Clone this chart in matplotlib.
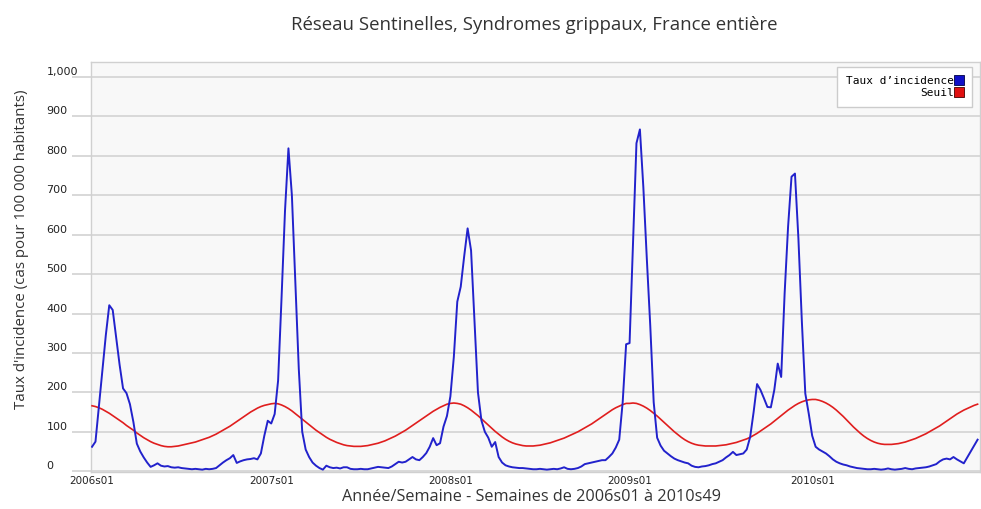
import matplotlib
matplotlib.use("Agg")
import matplotlib.pyplot as plt
import numpy as np
from matplotlib.lines import Line2D

# ---------------- data ----------------
title = "Réseau Sentinelles, Syndromes grippaux, France entière"
xlabel = "Année/Semaine - Semaines de 2006s01 à 2010s49"
ylabel = "Taux d'incidence (cas pour 100 000 habitants)"
series_names = ["Taux d\u2019incidence", "Seuil"]

tick_labels = ["2006s01", "2007s01", "2008s01", "2009s01", "2010s01"]
weeks_per_year = [52, 52, 52, 53, 49]   # 2006..2010 (2010 up to s49)

ytick_values = [0, 100, 200, 300, 400, 500, 600, 700, 800, 900, 1000]
ytick_labels = ["0", "100", "200", "300", "400", "500", "600", "700", "800", "900", "1,000"]

# weekly incidence rate (blue)
inc_2006 = [62, 75, 165, 255, 345, 421, 409, 340, 270, 210, 198, 170, 125, 70, 50, 35, 22, 11, 15, 20,
            14, 12, 13, 10, 9, 10, 8, 7, 6, 5, 6, 5, 4, 6, 5, 6, 8, 15, 22, 28,
            33, 41, 21, 25, 28, 30, 31, 33, 30, 45, 90, 128]
inc_2007 = [121, 145, 230, 440, 660, 819, 700, 480, 260, 100, 55, 36, 22, 14, 8,
            4, 14, 10, 8, 9, 7, 10, 10, 6, 5, 5, 6, 5, 5, 7, 9, 11, 10, 9, 8, 12, 18, 24, 22, 24, 30, 36, 30,
            28, 36, 46, 62, 84, 66, 71, 113, 140]
inc_2008 = [190, 290, 430, 468, 545, 616, 560, 380, 200, 129, 100, 85, 62, 74, 36, 22, 15, 12, 10, 9, 8,
            8, 7, 6, 5, 5, 6, 5, 4, 5, 6, 5, 7, 10, 6, 5, 6, 8, 12, 18, 20, 22,
            24, 26, 28, 28, 36, 45, 60, 80, 175, 322]
inc_2009 = [325, 580, 832, 867, 720, 540, 370, 175, 85, 65, 52, 45, 38, 32, 28, 25, 22, 20, 14, 11,
            10, 12, 13, 15, 18, 20, 24, 28, 35, 41, 49, 41, 43, 45, 55, 87, 150, 221, 206, 185,
            163, 162, 206, 273, 239, 451, 620, 747, 755, 590, 380, 197, 146]
inc_2010 = [90, 62, 55, 50, 45, 38, 30, 24, 20, 17, 15, 12, 10, 8, 7, 6, 5, 5, 6, 5,
            4, 5, 7, 5, 4, 5, 6, 8, 6, 5, 7, 8, 9, 10, 12, 15, 18, 25, 30, 32,
            30, 36, 30, 25, 20, 35, 50, 65, 80]

# epidemic threshold (red)
seuil_2006 = [166, 164, 161, 157, 152, 147, 141, 135, 129, 123, 116, 110, 104, 97, 91, 85, 80, 75, 71, 68,
              65, 63, 62, 62, 63, 64, 66, 68, 70, 72, 74, 77, 80, 83, 86, 90, 94, 99, 104, 109,
              114, 120, 126, 132, 138, 144, 150, 155, 160, 164, 167, 169]
seuil_2007 = [171, 172, 171, 168, 164, 159, 153, 146, 139, 132, 125, 118, 111, 104, 98, 92, 86, 81, 77, 73,
              70, 67, 65, 64, 63, 63, 63, 64, 65, 67, 69, 71, 74, 77, 81, 85, 89, 94, 99, 104,
              110, 116, 122, 128, 134, 140, 146, 152, 157, 162, 166, 170]
seuil_2008 = [172, 173, 172, 170, 166, 161, 155, 148, 141, 133, 125, 117, 109, 101, 94, 87, 81, 76, 72, 69,
              67, 65, 64, 64, 64, 65, 66, 68, 70, 72, 75, 78, 81, 84, 88, 92, 96, 100, 105, 110,
              115, 120, 126, 132, 138, 144, 150, 156, 161, 165, 169, 172]
seuil_2009 = [172, 173, 172, 169, 165, 160, 154, 147, 140, 132, 124, 116, 108, 100, 93, 86, 80, 75, 71, 68,
              66, 65, 64, 64, 64, 64, 65, 66, 67, 69, 71, 73, 76, 79, 82, 86, 91, 96, 102, 108,
              114, 120, 127, 134, 141, 148, 155, 161, 167, 172, 176, 179, 181]
seuil_2010 = [182, 182, 180, 177, 173, 168, 162, 155, 147, 139, 130, 121, 112, 104, 96, 89, 83, 78, 74, 71,
              69, 68, 68, 68, 69, 70, 72, 74, 77, 80, 83, 87, 91, 95, 100, 105, 110, 115, 121, 127,
              133, 139, 145, 150, 155, 159, 163, 167, 170]

incidence = inc_2006 + inc_2007 + inc_2008 + inc_2009 + inc_2010
seuil = seuil_2006 + seuil_2007 + seuil_2008 + seuil_2009 + seuil_2010
x = np.arange(len(incidence))
tick_pos = np.concatenate([[0], np.cumsum(weeks_per_year)[:-1]])

# ---------------- figure ----------------
W, H = 981, 509
fig = plt.figure(figsize=(W / 100, H / 100), dpi=100)
fig.patch.set_facecolor("white")
L, R, T, B = 91, 980, 62, 472
ax = fig.add_axes([L / W, 1 - B / H, (R - L) / W, (B - T) / H])
ax.set_facecolor("#f8f8f8")

ax.plot(x, seuil, color="#e01e1e", lw=1.2, zorder=3)
ax.plot(x, incidence, color="#2222cc", lw=1.4, zorder=4)

ax.set_xlim(-0.3, 257.7)
ax.set_ylim(-2, 1038)

ax.set_yticks(ytick_values, ytick_labels, ha="left", va="bottom")
ax.grid(axis="y", color="#d6d6d6", lw=1.3)
ax.set_axisbelow(True)
ax.tick_params(axis="y", length=14, width=1.3, color="#d6d6d6", pad=18,
               labelsize=8, labelcolor="#222222")

ax.set_xticks(tick_pos, tick_labels)
ax.tick_params(axis="x", length=0, pad=3, labelsize=7.5, labelcolor="#222222")

for s in ax.spines.values():
    s.set_color("#d0d0d0")
    s.set_linewidth(1.0)

fig.text(534 / W, 1 - 25 / H, title, ha="center", va="center",
         fontsize=13.4, color="#333333", family="Open Sans")
fig.text(531 / W, 1 - 497 / H, xlabel, ha="center", va="center",
         fontsize=11.7, color="#333333", family="Open Sans")
fig.text(22 / W, 1 - 249 / H, ylabel, ha="center", va="center", rotation=90,
         fontsize=10.8, color="#333333", family="Open Sans")

handles = [Line2D([], [], marker="s", ls="", markersize=7, markerfacecolor="#1010c8",
                  markeredgecolor="#000044", markeredgewidth=0.6),
           Line2D([], [], marker="s", ls="", markersize=7, markerfacecolor="#e01010",
                  markeredgecolor="#440000", markeredgewidth=0.6)]
leg = ax.legend(handles, series_names, loc="upper right", markerfirst=False,
                bbox_to_anchor=(972 / W, 1 - 67 / H), bbox_transform=fig.transFigure,
                borderaxespad=0, fancybox=False, framealpha=1, edgecolor="#cccccc",
                prop={"family": "DejaVu Sans Mono", "size": 8},
                handlelength=0.7, handletextpad=0.1, labelspacing=0.2, borderpad=0.8)
leg.get_frame().set_linewidth(1.0)

fig.savefig("out.png", dpi=100)
